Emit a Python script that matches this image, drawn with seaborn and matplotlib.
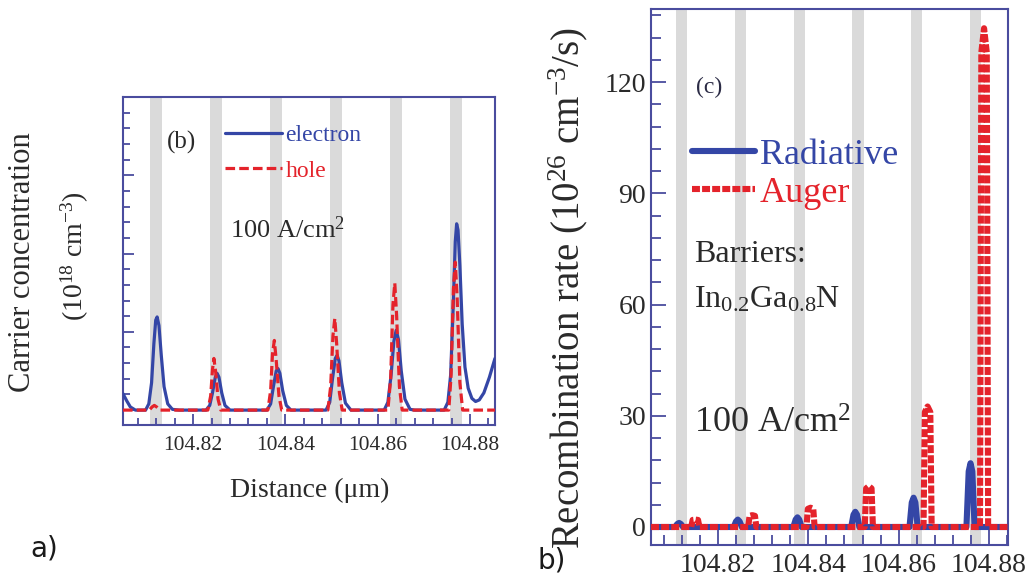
import numpy as np
import pandas as pd
import matplotlib
matplotlib.use("Agg")
import matplotlib.pyplot as plt
from matplotlib.ticker import MultipleLocator, FixedLocator
import seaborn as sns

# ---------------- data ----------------
# quantum well centres (um) shaded in grey
well_centers = [104.812, 104.825, 104.838, 104.851, 104.864, 104.877]
well_width = 0.0025

# panel (b): carrier concentration (arb. units of the unlabeled axis)
electron_x = [104.8048, 104.8056, 104.8064, 104.8075, 104.8097, 104.8104, 104.8110, 104.8115, 104.8119, 104.8122,
              104.8126, 104.8131, 104.8137, 104.8145, 104.8155, 104.8170, 104.8228, 104.8236, 104.8242, 104.8248,
              104.8252, 104.8256, 104.8262, 104.8269, 104.8280, 104.8360, 104.8368, 104.8374, 104.8380, 104.8384,
              104.8388, 104.8394, 104.8402, 104.8412, 104.8488, 104.8496, 104.8502, 104.8508, 104.8512, 104.8516,
              104.8522, 104.8530, 104.8542, 104.8614, 104.8622, 104.8629, 104.8635, 104.8640, 104.8645, 104.8651,
              104.8659, 104.8670, 104.8680, 104.8744, 104.8752, 104.8758, 104.8764, 104.8768, 104.8771, 104.8774,
              104.8778, 104.8783, 104.8789, 104.8796, 104.8804, 104.8812, 104.8820, 104.8830, 104.8842, 104.8854]
electron_y = [0.21, 0.12, 0.04, 0.0, 0.0, 0.08, 0.35, 0.85, 1.15, 1.19,
              1.08, 0.70, 0.30, 0.08, 0.01, 0.0, 0.0, 0.06, 0.22, 0.42,
              0.47, 0.42, 0.22, 0.06, 0.0, 0.0, 0.08, 0.30, 0.50, 0.53,
              0.47, 0.25, 0.06, 0.0, 0.0, 0.10, 0.40, 0.66, 0.70, 0.63,
              0.35, 0.09, 0.0, 0.0, 0.10, 0.45, 0.88, 1.02, 0.90, 0.50,
              0.14, 0.01, 0.0, 0.0, 0.10, 0.45, 1.40, 2.15, 2.38, 2.30,
              1.85, 1.10, 0.55, 0.28, 0.15, 0.11, 0.13, 0.22, 0.42, 0.66]

hole_x = [104.8048, 104.8105, 104.8111, 104.8116, 104.8121, 104.8128, 104.8232, 104.8238, 104.8242, 104.8245,
          104.8249, 104.8254, 104.8260, 104.8362, 104.8368, 104.8372, 104.8376, 104.8380, 104.8386, 104.8392,
          104.8492, 104.8498, 104.8503, 104.8507, 104.8511, 104.8517, 104.8523, 104.8622, 104.8628, 104.8633,
          104.8637, 104.8641, 104.8647, 104.8653, 104.8754, 104.8759, 104.8764, 104.8768, 104.8772, 104.8778,
          104.8784, 104.8854]
hole_y = [0.0, 0.0, 0.04, 0.06, 0.04, 0.0, 0.0, 0.18, 0.52, 0.66,
          0.48, 0.14, 0.0, 0.0, 0.25, 0.72, 0.89, 0.64, 0.18, 0.0,
          0.0, 0.30, 0.95, 1.17, 0.85, 0.22, 0.0, 0.0, 0.40, 1.35,
          1.62, 1.20, 0.30, 0.0, 0.0, 0.45, 1.55, 1.89, 1.45, 0.35,
          0.0, 0.0]

# panel (c): recombination rate (1e26 cm^-3/s)
radiative_x = [104.8052, 104.8105, 104.8110, 104.8114, 104.8118, 104.8123, 104.8235, 104.8240, 104.8244, 104.8248,
               104.8253, 104.8367, 104.8372, 104.8376, 104.8380, 104.8385, 104.8495, 104.8500, 104.8504, 104.8508,
               104.8513, 104.8624, 104.8629, 104.8633, 104.8637, 104.8642, 104.8750, 104.8755, 104.8759, 104.8763,
               104.8768, 104.8842]
radiative_y = [0, 0, 0.8, 1.1, 0.8, 0, 0, 1.5, 2.0, 1.5,
               0, 0, 2.0, 2.6, 2.0, 0, 0, 3.3, 4.1, 3.3,
               0, 0, 6.6, 7.9, 6.6, 0, 0, 15.0, 17.2, 15.0,
               0, 0]

auger_x = [104.8052, 104.8141, 104.8144, 104.8150, 104.8156, 104.8159, 104.8267, 104.8270, 104.8276, 104.8282,
           104.8285, 104.8396, 104.8399, 104.8405, 104.8411, 104.8414, 104.8525, 104.8528, 104.8534, 104.8540,
           104.8543, 104.8655, 104.8658, 104.8664, 104.8670, 104.8673, 104.8780, 104.8783, 104.8789, 104.8795,
           104.8798, 104.8842]
auger_y = [0, 0, 1.9, 2.0, 1.9, 0, 0, 3.0, 3.2, 3.0,
           0, 0, 4.9, 5.2, 4.9, 0, 0, 10.4, 11.0, 10.4,
           0, 0, 31.0, 32.5, 31.0, 0, 0, 128.0, 134.5, 128.0,
           0, 0]

b_xticks = [104.82, 104.84, 104.86, 104.88]
b_xticklabels = ["104.82", "104.84", "104.86", "104.88"]
c_yticks = [0, 30, 60, 90, 120]

# ---------------- style ----------------
sns.set_theme(style="ticks")
plt.rcParams['font.family'] = ['Liberation Serif', 'DejaVu Serif']
plt.rcParams['mathtext.fontset'] = 'custom'
plt.rcParams['mathtext.rm'] = 'Liberation Serif'
plt.rcParams['mathtext.it'] = 'Liberation Serif:italic'

SPINE = '#4a4c9e'
BLUE = '#3446a6'
RED = '#e4232b'
GREY = '#dadada'
TXT = '#2a2a2a'

fig = plt.figure(figsize=(10.29, 5.82), dpi=100)
axb = fig.add_axes([0.1195, 0.2698, 0.3615, 0.5636])
axc = fig.add_axes([0.6327, 0.0636, 0.3469, 0.9210])

def style_axes(ax, lab_size):
    for s in ax.spines.values():
        s.set_color(SPINE)
        s.set_linewidth(1.5)
    ax.tick_params(which='both', direction='in', color=SPINE, top=False, right=False,
                   labelsize=lab_size, labelcolor=TXT, width=1.3)
    ax.tick_params(which='major', length=8)
    ax.tick_params(which='minor', length=5)
    for w in well_centers:
        ax.axvspan(w - well_width / 2, w + well_width / 2, color=GREY, lw=0, zorder=0)

# ---------- panel (b) ----------
style_axes(axb, 15.5)
sns.lineplot(x=electron_x, y=electron_y, ax=axb, sort=False, estimator=None,
             color=BLUE, lw=2.3, zorder=3, label='electron')
sns.lineplot(x=hole_x, y=hole_y, ax=axb, sort=False, estimator=None,
             color=RED, lw=2.3, zorder=4, label='hole', dashes=False)
axb.lines[-1].set_dashes((3.0, 1.3))
axb.set_xlim(104.8048, 104.8854)
axb.set_ylim(-0.19, 4.0)
axb.xaxis.set_major_locator(FixedLocator(b_xticks))
axb.set_xticklabels(b_xticklabels)
axb.xaxis.set_minor_locator(MultipleLocator(0.004))
axb.yaxis.set_major_locator(MultipleLocator(1))
axb.yaxis.set_minor_locator(MultipleLocator(0.2))
axb.set_yticklabels([])
axb.tick_params(axis='x', pad=8)
axb.set_xlabel('')
axb.set_ylabel('')
axb.legend(loc='upper left', bbox_to_anchor=(0.25, 0.945), frameon=False, fontsize=17,
           handlelength=2.4, handletextpad=0.15, labelspacing=0.6, labelcolor='linecolor',
           borderaxespad=0)
axb.text(0.118, 0.86, '(b)', transform=axb.transAxes, fontsize=18, color=TXT, va='center')
axb.text(0.288, 0.595, '100 A/cm$^2$', transform=axb.transAxes, fontsize=19, color=TXT, va='center')

fig.text(310 / 1029, 1 - 490 / 582, 'Distance (μm)', ha='center', va='center', fontsize=20, color=TXT)
fig.text(23 / 1029, 1 - 262 / 582, 'Carrier concentration', ha='center', va='center',
         rotation=90, fontsize=22, color=TXT)
fig.text(75 / 1029, 1 - 256 / 582, '(10$^{18}$ cm$^{-3}$)', ha='center', va='center',
         rotation=90, fontsize=20, color=TXT)

# ---------- panel (c) ----------
style_axes(axc, 20)
sns.lineplot(x=radiative_x, y=radiative_y, ax=axc, sort=False, estimator=None,
             color=BLUE, lw=4.4, zorder=3, label='Radiative')
sns.lineplot(x=auger_x, y=auger_y, ax=axc, sort=False, estimator=None,
             color=RED, lw=4.4, zorder=4, label='Auger')
axc.lines[-1].set_dashes((1.3, 0.35))
axc.set_xlim(104.8052, 104.8842)
axc.set_ylim(-4.85, 139.7)
axc.xaxis.set_major_locator(FixedLocator(b_xticks))
axc.set_xticklabels(b_xticklabels)
axc.xaxis.set_minor_locator(MultipleLocator(0.004))
axc.yaxis.set_major_locator(FixedLocator(c_yticks))
axc.yaxis.set_minor_locator(MultipleLocator(6))
axc.tick_params(which='major', length=11)
axc.tick_params(which='minor', length=7)
axc.tick_params(axis='x', pad=6)
axc.set_xlabel('')
axc.set_ylabel('')
axc.legend(loc='upper left', bbox_to_anchor=(0.075, 0.785), frameon=False, fontsize=26,
           handlelength=1.75, handletextpad=0.12, labelspacing=0.12, labelcolor='linecolor',
           borderaxespad=0)
axc.text(0.126, 0.854, '(c)', transform=axc.transAxes, fontsize=17, color='#2b2b45', va='center')
axc.text(0.12, 0.541, 'Barriers:', transform=axc.transAxes, fontsize=23, color=TXT, va='center')
axc.text(0.12, 0.457, 'In$_{0.2}$Ga$_{0.8}$N', transform=axc.transAxes, fontsize=23, color=TXT, va='center')
axc.text(0.12, 0.226, '100 A/cm$^2$', transform=axc.transAxes, fontsize=26, color=TXT, va='center')

fig.text(568 / 1029, 1 - 288 / 582, 'Recombination rate (10$^{26}$ cm$^{-3}$/s)', ha='center', va='center',
         rotation=90, fontsize=28, color=TXT)

fig.text(30 / 1029, 1 - 548 / 582, 'a)', ha='left', va='center', fontsize=20,
         family=['DejaVu Sans'], color='#1a1a1a')
fig.text(537 / 1029, 1 - 560 / 582, 'b)', ha='left', va='center', fontsize=20,
         family=['DejaVu Sans'], color='#1a1a1a')

fig.savefig('out.png', dpi=100)
